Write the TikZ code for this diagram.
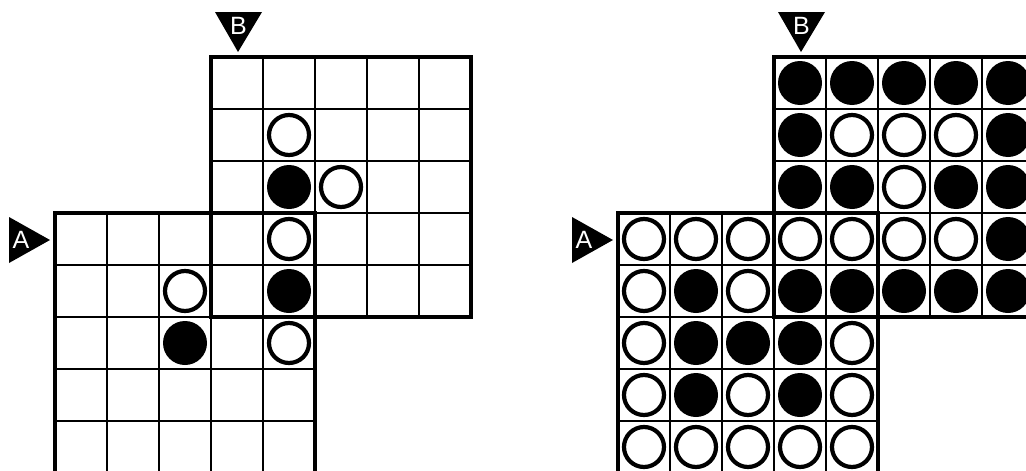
\documentclass[tikz,border=0pt]{standalone}
\usepackage{fontspec}
\setmainfont{Liberation Sans}
\begin{document}
\begin{tikzpicture}[x=1pt,y=-1pt,
  gridline/.style={line width=2pt},
  outer/.style={line width=4.8pt, line join=miter, line cap=rect},
  wstone/.style={draw, line width=4.2pt, fill=white},
  bstone/.style={fill=black},
  marker/.style={fill=black},
  mlabel/.style={text=white, inner sep=0pt, font=\fontsize{25}{25}\selectfont}]
\useasboundingbox (0,0) rectangle (1026,471);
\clip (0,0) rectangle (1026,471);
\foreach \ox/\nm in {0/l,563/r} {
  % grid lines A
  \foreach \i in {1,...,4} {
    \draw[gridline] ({\ox+55+52*\i},213) -- ++(0,260);
    \draw[gridline] ({\ox+55},{213+52*\i}) -- ++(260,0);
    \draw[gridline] ({\ox+211+52*\i},57) -- ++(0,260);
    \draw[gridline] ({\ox+211},{57+52*\i}) -- ++(260,0);
  }
  \draw[outer] ({\ox+55},213) rectangle ++(260,260);
  \draw[outer] ({\ox+211},57) rectangle ++(260,260);
  % markers
  \fill[marker] ({\ox+9},217) -- ({\ox+9},263) -- ({\ox+50},240) -- cycle;
  \fill[marker] ({\ox+215},12) -- ({\ox+262},12) -- ({\ox+238},52) -- cycle;
  \node[mlabel] (A\nm) at ({\ox+21},240) {A};
  \node[mlabel] (B\nm) at ({\ox+238.5},26) {B};
}
% left stones
\foreach \c/\r in {4/-2,5/-1,4/0,2/1,4/2}
  \draw[wstone] ({81+52*\c},{239+52*\r}) circle (20);
\foreach \c/\r in {4/-1,4/1,2/2}
  \fill[bstone] ({81+52*\c},{239+52*\r}) circle (22);
% right stones
\foreach \c/\r in {4/-2,5/-2,6/-2,5/-1,
  0/0,1/0,2/0,3/0,4/0,5/0,6/0,
  0/1,2/1,0/2,4/2,0/3,2/3,4/3,
  0/4,1/4,2/4,3/4,4/4}
  \draw[wstone] ({644+52*\c},{239+52*\r}) circle (20);
\foreach \c/\r in {3/-3,4/-3,5/-3,6/-3,7/-3,
  3/-2,7/-2,3/-1,4/-1,6/-1,7/-1,7/0,
  1/1,3/1,4/1,5/1,6/1,7/1,
  1/2,2/2,3/2,1/3,3/3}
  \fill[bstone] ({644+52*\c},{239+52*\r}) circle (22);
\end{tikzpicture}
\end{document}
